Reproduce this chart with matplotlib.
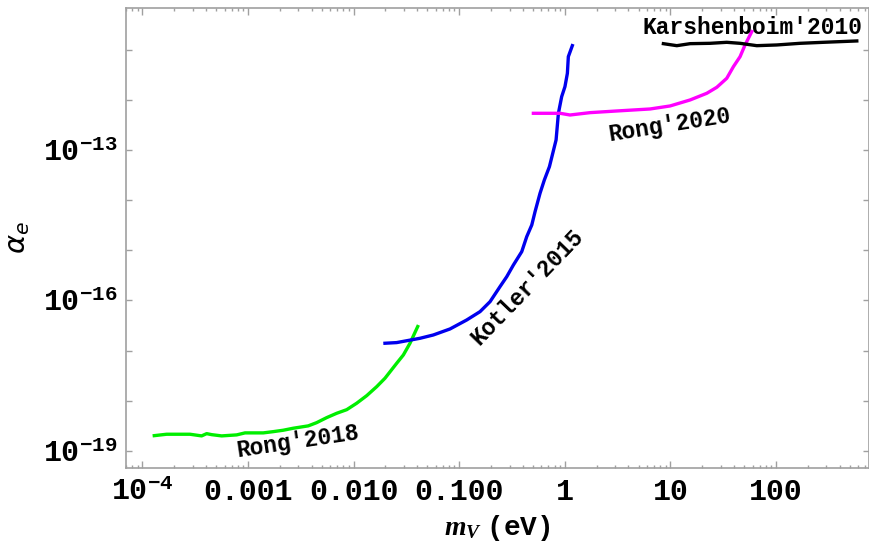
import numpy as np
import matplotlib
matplotlib.use('Agg')
import matplotlib.pyplot as plt
from matplotlib.ticker import FixedLocator, LogLocator, NullFormatter

plt.rcParams['mathtext.fontset'] = 'custom'
plt.rcParams['mathtext.rm'] = 'Liberation Mono:bold'
plt.rcParams['mathtext.bf'] = 'Liberation Mono:bold'
plt.rcParams['mathtext.it'] = 'Liberation Serif:italic:bold'

# curves, as log10(m_V / eV) and log10(alpha_e)
rong2018_logm = [-3.887, -3.770, -3.549, -3.439, -3.391, -3.344, -3.249, -3.107, -3.028,
                 -2.855, -2.760, -2.666, -2.571, -2.429, -2.350, -2.255, -2.160, -2.065,
                 -1.971, -1.876, -1.781, -1.703, -1.592, -1.529, -1.466, -1.393]
rong2018_loga = [-18.695, -18.667, -18.667, -18.700, -18.655, -18.675, -18.700, -18.680, -18.640,
                 -18.640, -18.615, -18.587, -18.547, -18.500, -18.436, -18.336, -18.249, -18.177,
                 -18.049, -17.898, -17.718, -17.551, -17.252, -17.087, -16.853, -16.520]

kotler2015_logm = [-1.703, -1.592, -1.371, -1.245, -1.087, -0.929, -0.803, -0.708, -0.614,
                   -0.550, -0.487, -0.408, -0.361, -0.313, -0.282, -0.235, -0.194, -0.146,
                   -0.083, -0.061, -0.030, 0.001, 0.024, 0.033, 0.071]
kotler2015_loga = [-16.853, -16.840, -16.754, -16.688, -16.568, -16.389, -16.223, -16.024, -15.725,
                   -15.526, -15.293, -15.027, -14.729, -14.495, -14.230, -13.864, -13.598, -13.333,
                   -12.800, -12.269, -11.937, -11.738, -11.472, -11.140, -10.920]

rong2020_logm = [-0.298, -0.045, 0.049, 0.239, 0.491, 0.807, 0.996, 1.186, 1.344,
                 1.439, 1.533, 1.596, 1.659, 1.706, 1.770]
rong2020_loga = [-12.269, -12.269, -12.303, -12.256, -12.223, -12.183, -12.123, -12.003, -11.870,
                 -11.750, -11.571, -11.339, -11.140, -10.907, -10.641]

karsh2010_logm = [0.933, 1.060, 1.186, 1.375, 1.533, 1.659, 1.817, 2.006, 2.227, 2.448, 2.764]
karsh2010_loga = [-10.881, -10.921, -10.881, -10.874, -10.854, -10.874, -10.921, -10.907,
                  -10.874, -10.854, -10.827]

xtick_vals = [1e-4, 1e-3, 1e-2, 1e-1, 1, 10, 100]
xtick_labels = [r'$10^{-4}$', '0.001', '0.010', '0.100', '1', '10', '100']
ytick_vals = [1e-19, 1e-16, 1e-13]
ytick_labels = [r'$10^{-19}$', r'$10^{-16}$', r'$10^{-13}$']

fig = plt.figure(figsize=(8.7, 5.44), dpi=100)
ax = fig.add_axes([0.1448, 0.1397, 0.8541, 0.8456])

lw = 2.4
ax.plot(10**np.array(rong2018_logm), 10**np.array(rong2018_loga), color='#00ee00', lw=lw)
ax.plot(10**np.array(kotler2015_logm), 10**np.array(kotler2015_loga), color='#0000ee', lw=lw)
ax.plot(10**np.array(rong2020_logm), 10**np.array(rong2020_loga), color='#ff00ff', lw=lw)
ax.plot(10**np.array(karsh2010_logm), 10**np.array(karsh2010_loga), color='black', lw=lw)

ax.set_xscale('log')
ax.set_yscale('log')
ax.set_xlim(10**-4.155, 10**2.88)
ax.set_ylim(10**-19.34, 10**-10.17)

lab = dict(family='Liberation Mono', weight='bold', fontsize=16.5)
ax.text(10**1.773, 10**-10.568, "Karshenboim'2010", ha='center', va='center', **lab)
ax.text(10**0.995, 10**-12.50, "Rong'2020", ha='center', va='center', rotation=9, **lab)
ax.text(10**-2.525, 10**-18.815, "Rong'2018", ha='center', va='center', rotation=8.5, **lab)
ax.text(10**-0.358, 10**-15.725, "Kotler'2015", ha='center', va='center', rotation=46, **lab)

# ticks, Mathematica style frame
ax.xaxis.set_major_locator(FixedLocator(xtick_vals))
ax.set_xticklabels(xtick_labels)
ax.xaxis.set_minor_locator(LogLocator(base=10, subs=np.arange(2, 10), numticks=30))
ax.xaxis.set_minor_formatter(NullFormatter())

ax.yaxis.set_major_locator(FixedLocator(ytick_vals))
ax.set_yticklabels(ytick_labels)
ax.yaxis.set_minor_locator(FixedLocator([10.0**k for k in range(-19, -10)]))
ax.yaxis.set_minor_formatter(NullFormatter())

gray = '#a0a0a0'
for s in ax.spines.values():
    s.set_color(gray)
    s.set_linewidth(1.2)
ax.tick_params(which='both', direction='in', top=True, right=True, color=gray, width=1)
ax.tick_params(axis='x', which='major', length=5, pad=7)
ax.tick_params(axis='x', which='minor', length=2.5)
ax.tick_params(axis='y', which='both', length=4.5, pad=6)
for t in ax.get_xticklabels() + ax.get_yticklabels():
    t.set_family('Liberation Mono')
    t.set_weight('bold')
    t.set_fontsize(21.5)

ax.set_xlabel(r'$m_V\ \mathrm{(eV)}$', fontsize=20, labelpad=5)
ax.set_ylabel(r'$\boldsymbol{\alpha_e}$', fontsize=21, labelpad=8, math_fontfamily='dejavusans')

fig.savefig('out.png', dpi=100)
